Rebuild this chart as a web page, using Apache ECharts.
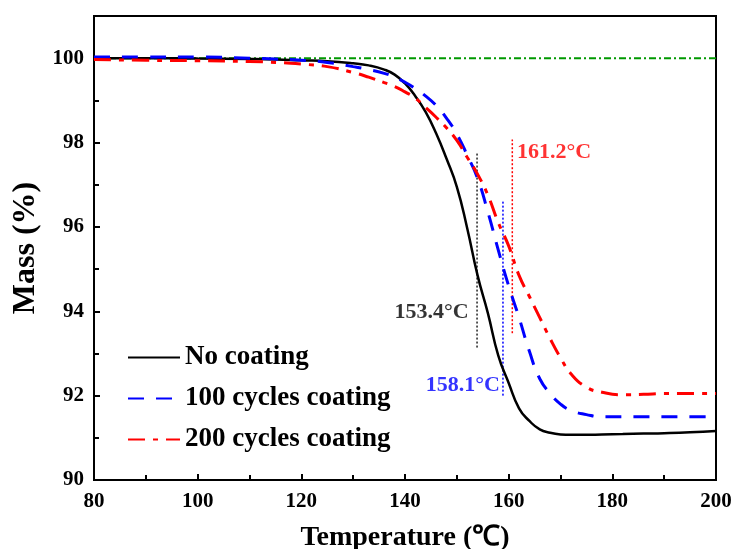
<!DOCTYPE html>
<html>
<head>
<meta charset="utf-8">
<script src="https://cdn.jsdelivr.net/npm/echarts@6/dist/echarts.min.js"></script>
<style>
  html, body { margin: 0; padding: 0; background: #fff; }
  #main { width: 734px; height: 549px; }
</style>
</head>
<body>
<div id="main"></div>
<script>
// temperature points (°C)
const temps = [80, 90, 100, 110, 115, 120, 125, 130, 133, 136, 138, 140, 142, 144, 146, 148, 150, 152, 154, 156, 158, 160, 162, 164, 166, 168, 170, 172, 175, 178, 182, 186, 190, 195, 200]
// mass (%) for each sample
const noCoating = [100.0, 100.0, 99.99, 99.98, 99.97, 99.95, 99.93, 99.88, 99.83, 99.73, 99.61, 99.4, 99.1, 98.72, 98.22, 97.62, 96.95, 95.97, 94.85, 93.95, 92.95, 92.3, 91.7, 91.4, 91.2, 91.12, 91.08, 91.07, 91.07, 91.08, 91.09, 91.1, 91.11, 91.13, 91.16]
const cycles100 = [100.03, 100.03, 100.03, 100.0, 99.98, 99.95, 99.9, 99.8, 99.73, 99.64, 99.55, 99.43, 99.28, 99.1, 98.88, 98.58, 98.2, 97.7, 97.15, 96.35, 95.45, 94.6, 93.85, 93.05, 92.4, 92.05, 91.8, 91.65, 91.55, 91.5, 91.5, 91.5, 91.5, 91.5, 91.5]
const cycles200 = [99.97, 99.95, 99.94, 99.92, 99.9, 99.86, 99.8, 99.66, 99.55, 99.42, 99.33, 99.2, 99.05, 98.83, 98.6, 98.35, 98.05, 97.65, 97.25, 96.75, 96.1, 95.55, 94.85, 94.35, 93.85, 93.35, 92.9, 92.52, 92.2, 92.08, 92.02, 92.03, 92.05, 92.05, 92.05]

// marked temperatures (dotted vertical lines)
const refTemps = [153.9, 158.9, 160.7]
const refTop = [97.76, 96.64, 98.07]
const refBottom = [93.14, 92.0, 93.48]
const refLabels = ['153.4°C', '158.1°C', '161.2°C']
const refLabelAnchors = [[152.3, 93.97], [158.3, 92.24], [161.6, 97.78]]

const xTicks = [80, 100, 120, 140, 160, 180, 200]
const yTicks = [90, 92, 94, 96, 98, 100]

const font = '"Liberation Serif", "Times New Roman", serif'
const chart = echarts.init(document.getElementById('main'))

const pairs = (ys) => temps.map((t, i) => [t, ys[i]])
const refColors = ['#222', '#0000ff', '#ff0000']
const labelColors = ['#000', '#0000ff', '#ff0000']
const refPos = ['left', 'left', 'right']

const refSeries = refTemps.map((t, i) => ({
  type: 'line',
  data: [[t, refBottom[i]], [t, refTop[i]]],
  symbol: 'none',
  silent: true,
  lineStyle: { color: refColors[i], width: 1.5, type: [2, 2] },
  z: 1
}))

const labelSeries = refLabels.map((s, i) => ({
  type: 'scatter',
  data: [refLabelAnchors[i]],
  symbolSize: 0,
  silent: true,
  label: {
    show: true,
    position: refPos[i],
    distance: 0,
    formatter: s,
    color: labelColors[i],
    fontFamily: font,
    fontWeight: 'bold',
    fontSize: 22
  }
}))

chart.setOption({
  animation: false,
  grid: {
    left: 94, right: 18, top: 16, bottom: 69,
    outerBoundsMode: 'none',
    show: true, borderColor: '#000', borderWidth: 2
  },
  legend: {
    orient: 'vertical',
    left: 122,
    top: 339,
    itemWidth: 52,
    itemHeight: 14,
    itemGap: 14,
    itemStyle: { opacity: 0 },
    data: ['No coating', '100 cycles coating', '200 cycles coating'],
    textStyle: { fontFamily: font, fontWeight: 'bold', fontSize: 27, color: '#000' }
  },
  xAxis: {
    type: 'value',
    min: 80, max: 200, interval: 20,
    name: 'Temperature (℃)',
    nameLocation: 'middle',
    nameGap: 44,
    nameTextStyle: { fontFamily: font, fontWeight: 'bold', fontSize: 28, color: '#000' },
    axisLine: { lineStyle: { color: '#000', width: 2 } },
    axisTick: { inside: true, length: 6, lineStyle: { width: 2 } },
    minorTick: { show: true, splitNumber: 2, length: 5, lineStyle: { color: '#000', width: 2 } },
    splitLine: { show: false },
    axisLabel: {
      margin: 11, color: '#000', fontFamily: font, fontWeight: 'bold', fontSize: 21,
      formatter: v => xTicks.includes(v) ? String(v) : ''
    }
  },
  yAxis: {
    type: 'value',
    min: 90, max: 101, interval: 2,
    name: 'Mass (%)',
    nameLocation: 'middle',
    nameGap: 49,
    nameTextStyle: { fontFamily: font, fontWeight: 'bold', fontSize: 32, color: '#000' },
    axisLine: { show: true, lineStyle: { color: '#000', width: 2 } },
    axisTick: { show: true, inside: true, length: 6, lineStyle: { width: 2 } },
    minorTick: { show: true, splitNumber: 2, length: 5, lineStyle: { color: '#000', width: 2 } },
    splitLine: { show: false },
    axisLabel: {
      margin: 10, color: '#000', fontFamily: font, fontWeight: 'bold', fontSize: 21,
      formatter: v => yTicks.includes(v) ? String(v) : ''
    }
  },
  series: [
    {
      type: 'line',
      data: [[80, 100], [200, 100]],
      symbol: 'none',
      silent: true,
      lineStyle: { color: '#009900', width: 2, type: [7, 3, 2, 3] },
      z: 1
    },
    ...refSeries,
    {
      name: 'No coating',
      type: 'line',
      data: pairs(noCoating),
      symbol: 'none',
      smooth: 0.5,
      color: '#000',
      lineStyle: { color: '#000', width: 2.5 },
      z: 3
    },
    {
      name: '100 cycles coating',
      type: 'line',
      data: pairs(cycles100),
      symbol: 'none',
      smooth: 0.5,
      color: '#0000ff',
      lineStyle: { color: '#0000ff', width: 3, type: [16, 12] },
      z: 3
    },
    {
      name: '200 cycles coating',
      type: 'line',
      data: pairs(cycles200),
      symbol: 'none',
      smooth: 0.5,
      color: '#ff0000',
      lineStyle: { color: '#ff0000', width: 3, type: [17, 8, 5, 8] },
      z: 3
    },
    ...labelSeries
  ]
})
</script>
</body>
</html>
